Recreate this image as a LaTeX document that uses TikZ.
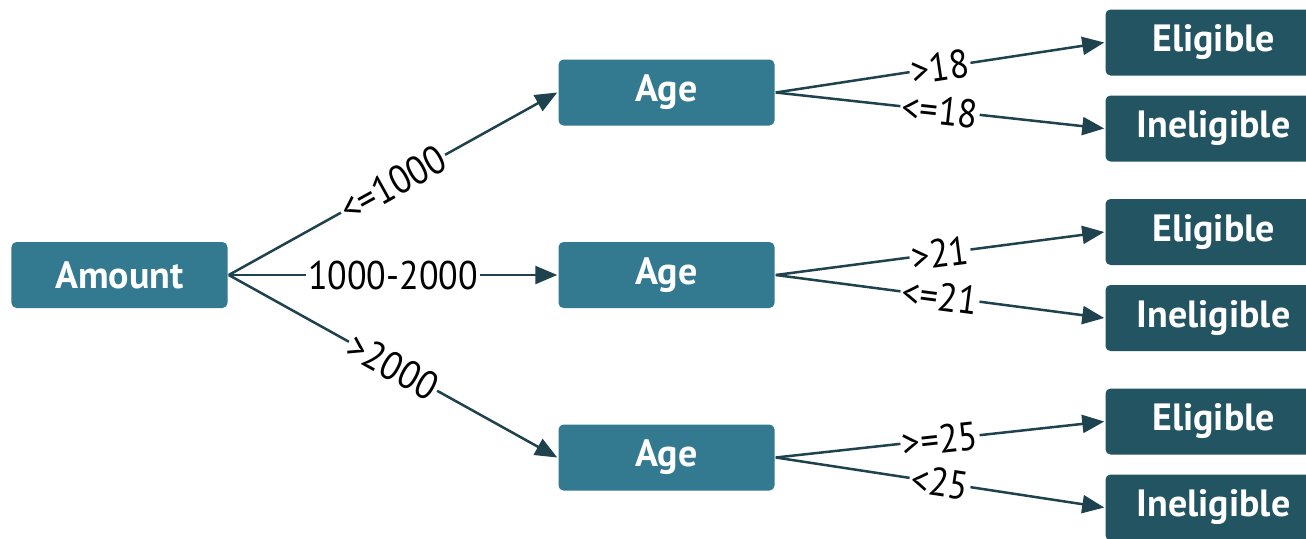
\documentclass[tikz,border=0pt]{standalone}
\usepackage{fontspec}
\setmainfont{PT Sans}
\newfontfamily\condfont{PT Sans}[FakeStretch=0.9]
\usetikzlibrary{arrows.meta}
\definecolor{agefill}{RGB}{51,122,145}
\definecolor{leaffill}{RGB}{34,84,98}
\definecolor{linkcol}{RGB}{30,66,78}
\begin{document}
\begin{tikzpicture}
	[node distance={273.5pt}, line width=1.25pt, linkcol,
	>={Triangle[length=11pt,width=9pt]},
	main/.style = {fill=agefill, rounded corners=2.5pt, minimum width=108pt, minimum height=33pt,
		text=white, font=\bfseries\fontsize{19}{21}\selectfont},
	leaf/.style = {main, fill=leaffill},
	cond/.style = {midway, sloped, fill=white, inner sep=1pt, text=black,
		font=\condfont\fontsize{20}{22}\selectfont}]
	\useasboundingbox (-59.75pt,-131.5pt) rectangle (593.25pt,137.5pt);
	\clip (-59.75pt,-131.5pt) rectangle (593.25pt,137.5pt);
	\node[main] (amount) {Amount};
	\node[main] (age1) [right of = amount, yshift=91.25pt] {Age};
	\node[main] (age2) [right of = amount] {Age};
	\node[main] (age3) [right of = amount, yshift=-91.25pt] {Age};
	\node[leaf] (elig1) [right of = age1, yshift=25pt] {Eligible};
	\node[leaf] (inel1) [right of = age1, yshift=-18pt] {Ineligible};
	\node[leaf] (elig2) [right of = age2, yshift=21.5pt] {Eligible};
	\node[leaf] (inel2) [right of = age2, yshift=-21.5pt] {Ineligible};
	\node[leaf] (elig3) [right of = age3, yshift=18pt] {Eligible};
	\node[leaf] (inel3) [right of = age3, yshift=-25pt] {Ineligible};
	\draw[->] (amount.east) -- node[cond] {<=1000} (age1.west);
	\draw[->] (amount.east) -- node[cond] {1000-2000} (age2.west);
	\draw[->] (amount.east) -- node[cond] {>2000} (age3.west);
	\draw[->] (age1.east) -- node[cond] {>18} (elig1.west);
	\draw[->] (age1.east) -- node[cond] {<=18} (inel1.west);
	\draw[->] (age2.east) -- node[cond] {>21} (elig2.west);
	\draw[->] (age2.east) -- node[cond] {<=21} (inel2.west);
	\draw[->] (age3.east) -- node[cond] {>=25} (elig3.west);
	\draw[->] (age3.east) -- node[cond] {<25} (inel3.west);
\end{tikzpicture}
\end{document}
